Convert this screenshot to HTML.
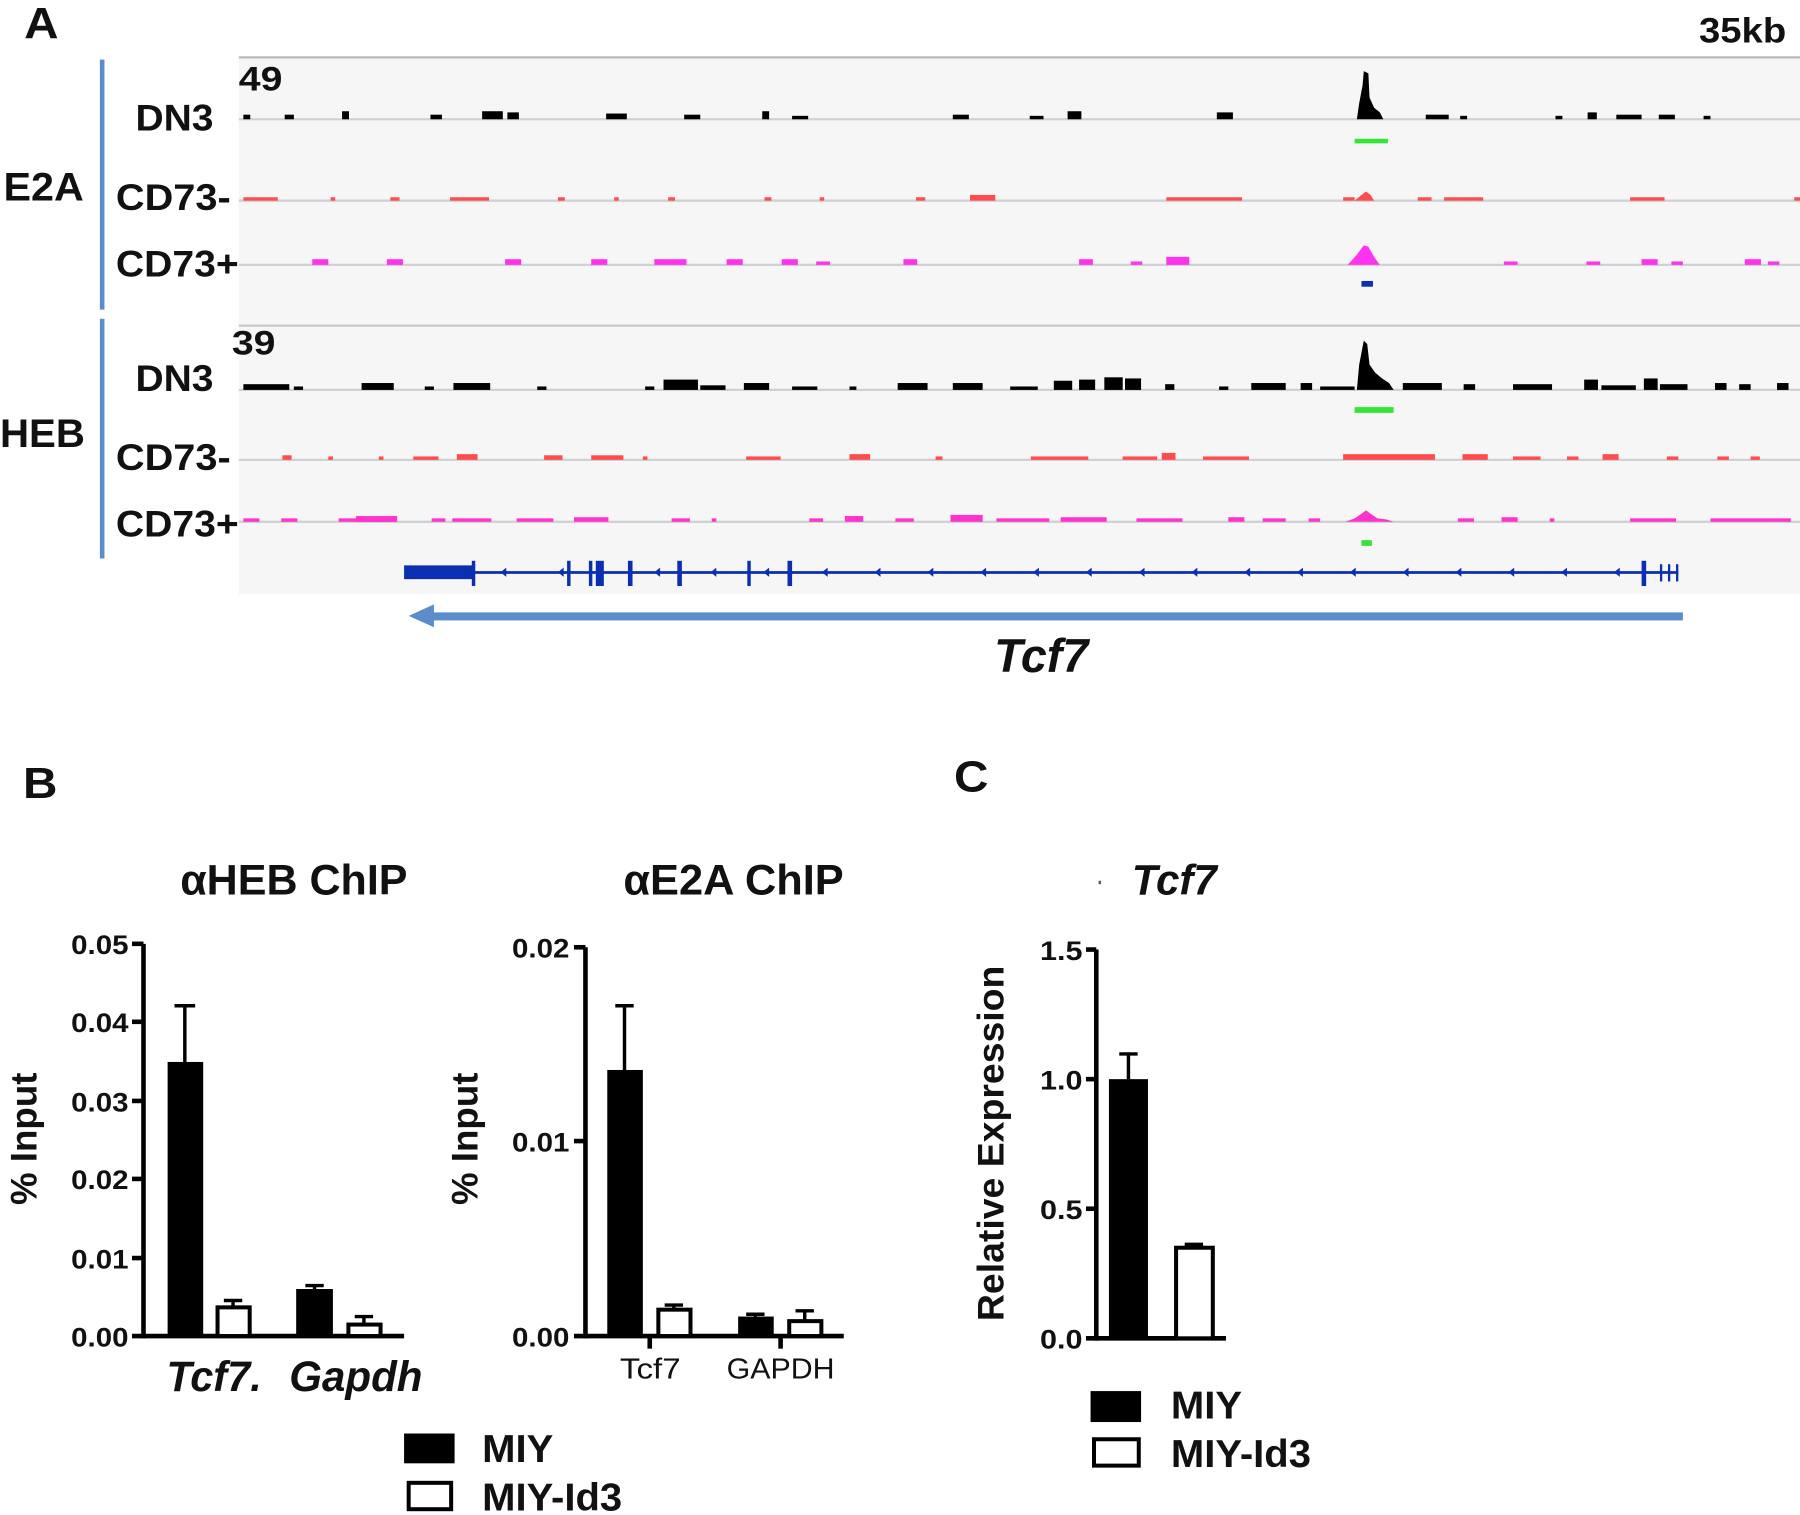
<!DOCTYPE html>
<html><head><meta charset="utf-8"><style>
html,body{margin:0;padding:0;background:#fff;}
svg{display:block;}
text{font-family:"Liberation Sans",Arial,sans-serif;font-weight:bold;fill:#111;}
</style></head><body>
<svg width="1800" height="1515" viewBox="0 0 1568 1327" preserveAspectRatio="none" xmlns="http://www.w3.org/2000/svg">
<rect width="1568" height="1327" fill="#fff"/>
<g transform="scale(1,1.0045)">
<!-- Panel A -->
<text x="21" y="33" font-size="38" textLength="30" lengthAdjust="spacingAndGlyphs">A</text>
<text x="1556" y="37" font-size="31" text-anchor="end" textLength="76" lengthAdjust="spacingAndGlyphs">35kb</text>
<rect x="208" y="50" width="1360" height="468" fill="#f6f6f6"/>
<line x1="208" y1="50" x2="1568" y2="50" stroke="#bbb" stroke-width="2"/>
<line x1="208" y1="284" x2="1568" y2="284" stroke="#ccc" stroke-width="2"/>
<g stroke="#d0d0d6" stroke-width="2">
<line x1="208" y1="104" x2="1568" y2="104"/>
<line x1="208" y1="175" x2="1568" y2="175"/>
<line x1="208" y1="231" x2="1568" y2="231"/>
<line x1="208" y1="340" x2="1568" y2="340"/>
<line x1="208" y1="401" x2="1568" y2="401"/>
<line x1="208" y1="455" x2="1568" y2="455"/>
</g>
<rect x="87" y="52" width="4" height="218" fill="#5b8ccc"/>
<rect x="87" y="278" width="4" height="209" fill="#5b8ccc"/>
<text x="3" y="175" font-size="35" textLength="70" lengthAdjust="spacingAndGlyphs">E2A</text>
<text x="0" y="390" font-size="35" textLength="74" lengthAdjust="spacingAndGlyphs">HEB</text>
<g font-size="32">
<text x="118" y="114" textLength="68" lengthAdjust="spacingAndGlyphs">DN3</text>
<text x="101" y="183" textLength="100" lengthAdjust="spacingAndGlyphs">CD73-</text>
<text x="101" y="241" textLength="107" lengthAdjust="spacingAndGlyphs">CD73+</text>
<text x="118" y="341" textLength="68" lengthAdjust="spacingAndGlyphs">DN3</text>
<text x="101" y="410" textLength="100" lengthAdjust="spacingAndGlyphs">CD73-</text>
<text x="101" y="468" textLength="107" lengthAdjust="spacingAndGlyphs">CD73+</text>
</g>
<text x="208" y="79" font-size="30" textLength="38" lengthAdjust="spacingAndGlyphs">49</text>
<text x="202" y="309" font-size="30" textLength="38" lengthAdjust="spacingAndGlyphs">39</text>
<!-- E2A DN3 -->
<g fill="#000">
<path d="M1182 104 L1184 90 L1187 74 L1188 62 L1192 64 L1193 85 L1197 94 L1202 98 L1205 104Z"/>
<rect x="212" y="100" width="6" height="4"/><rect x="248" y="100" width="8" height="4"/><rect x="298" y="97" width="6" height="7"/><rect x="375" y="100" width="10" height="4"/><rect x="420" y="97" width="18" height="7"/><rect x="442" y="98" width="10" height="6"/><rect x="528" y="99" width="18" height="5"/><rect x="596" y="100" width="14" height="4"/><rect x="664" y="97" width="6" height="7"/><rect x="690" y="101" width="14" height="3"/><rect x="830" y="100" width="14" height="4"/><rect x="897" y="101" width="12" height="3"/><rect x="930" y="97" width="12" height="7"/><rect x="1060" y="98" width="14" height="6"/><rect x="1242" y="100" width="20" height="4"/><rect x="1272" y="101" width="6" height="3"/><rect x="1355" y="101" width="6" height="3"/><rect x="1383" y="98" width="8" height="6"/><rect x="1408" y="100" width="22" height="4"/><rect x="1445" y="100" width="14" height="4"/><rect x="1484" y="101" width="6" height="3"/>
</g>
<rect x="1180" y="121" width="29" height="4" fill="#33e633"/>
<!-- E2A CD73- -->
<g fill="#ff4d4d">
<path d="M1180 175 L1186 170 L1190 167 L1194 170 L1197 175Z"/>
<rect x="212" y="172" width="30" height="3"/><rect x="288" y="172" width="4" height="3"/><rect x="340" y="172" width="8" height="3"/><rect x="392" y="172" width="34" height="3"/><rect x="486" y="172" width="6" height="3"/><rect x="535" y="172" width="4" height="3"/><rect x="582" y="172" width="6" height="3"/><rect x="666" y="172" width="6" height="3"/><rect x="714" y="172" width="4" height="3"/><rect x="798" y="172" width="8" height="3"/><rect x="845" y="170" width="22" height="5"/><rect x="1016" y="172" width="66" height="3"/><rect x="1170" y="172" width="10" height="3"/><rect x="1235" y="172" width="12" height="3"/><rect x="1258" y="172" width="34" height="3"/><rect x="1420" y="172" width="30" height="3"/><rect x="1563" y="172" width="5" height="3"/>
</g>
<!-- E2A CD73+ -->
<g fill="#ff33ee">
<path d="M1174 231 L1182 222 L1188 214 L1192 215 L1197 224 L1202 231Z"/>
<rect x="272" y="226" width="14" height="5"/><rect x="337" y="226" width="14" height="5"/><rect x="440" y="226" width="14" height="5"/><rect x="515" y="226" width="14" height="5"/><rect x="570" y="226" width="28" height="5"/><rect x="633" y="226" width="14" height="5"/><rect x="681" y="226" width="14" height="5"/><rect x="711" y="228" width="12" height="3"/><rect x="787" y="226" width="12" height="5"/><rect x="940" y="226" width="12" height="5"/><rect x="985" y="228" width="10" height="3"/><rect x="1016" y="224" width="20" height="7"/><rect x="1310" y="228" width="12" height="3"/><rect x="1382" y="228" width="12" height="3"/><rect x="1430" y="226" width="14" height="5"/><rect x="1456" y="228" width="10" height="3"/><rect x="1520" y="226" width="14" height="5"/><rect x="1540" y="228" width="10" height="3"/>
</g>
<rect x="1186" y="245" width="10" height="5" fill="#0a2fb0"/>
<!-- HEB DN3 -->
<g fill="#000">
<path d="M1182 340 L1184 318 L1188 297 L1191 300 L1193 318 L1198 325 L1204 330 L1210 334 L1214 340Z"/>
<rect x="212" y="335" width="40" height="5"/><rect x="256" y="337" width="8" height="3"/><rect x="315" y="334" width="28" height="6"/><rect x="370" y="337" width="8" height="3"/><rect x="395" y="334" width="32" height="6"/><rect x="468" y="337" width="8" height="3"/><rect x="562" y="337" width="8" height="3"/><rect x="578" y="331" width="30" height="9"/><rect x="610" y="336" width="22" height="4"/><rect x="648" y="334" width="22" height="6"/><rect x="690" y="337" width="22" height="3"/><rect x="740" y="337" width="6" height="3"/><rect x="782" y="334" width="26" height="6"/><rect x="830" y="334" width="26" height="6"/><rect x="880" y="337" width="24" height="3"/><rect x="918" y="332" width="16" height="8"/><rect x="940" y="331" width="14" height="9"/><rect x="962" y="329" width="16" height="11"/><rect x="980" y="330" width="14" height="10"/><rect x="1015" y="335" width="8" height="5"/><rect x="1062" y="337" width="8" height="3"/><rect x="1090" y="334" width="30" height="6"/><rect x="1133" y="334" width="10" height="6"/><rect x="1150" y="337" width="30" height="3"/><rect x="1222" y="334" width="34" height="6"/><rect x="1275" y="335" width="10" height="5"/><rect x="1318" y="335" width="34" height="5"/><rect x="1380" y="331" width="12" height="9"/><rect x="1395" y="336" width="30" height="4"/><rect x="1432" y="330" width="12" height="10"/><rect x="1446" y="335" width="24" height="5"/><rect x="1494" y="334" width="10" height="6"/><rect x="1515" y="335" width="10" height="5"/><rect x="1548" y="334" width="10" height="6"/>
</g>
<rect x="1180" y="355" width="34" height="5" fill="#33e633"/>
<!-- HEB CD73- -->
<g fill="#ff4d4d">
<rect x="246" y="397" width="8" height="4"/><rect x="286" y="398" width="4" height="3"/><rect x="330" y="398" width="4" height="3"/><rect x="360" y="398" width="22" height="3"/><rect x="398" y="396" width="18" height="5"/><rect x="474" y="397" width="16" height="4"/><rect x="515" y="397" width="28" height="4"/><rect x="560" y="398" width="4" height="3"/><rect x="650" y="398" width="30" height="3"/><rect x="740" y="396" width="18" height="5"/><rect x="815" y="398" width="6" height="3"/><rect x="898" y="398" width="50" height="3"/><rect x="978" y="398" width="30" height="3"/><rect x="1012" y="395" width="12" height="6"/><rect x="1048" y="398" width="40" height="3"/><rect x="1170" y="396" width="80" height="5"/><rect x="1274" y="396" width="22" height="5"/><rect x="1318" y="398" width="24" height="3"/><rect x="1365" y="398" width="10" height="3"/><rect x="1396" y="396" width="14" height="5"/><rect x="1452" y="398" width="10" height="3"/><rect x="1496" y="398" width="10" height="3"/><rect x="1525" y="398" width="8" height="3"/>
</g>
<!-- HEB CD73+ -->
<g fill="#ff33cc">
<path d="M1172 455 L1180 452 L1186 448 L1190 445 L1194 448 L1200 452 L1208 453 L1214 455Z"/>
<rect x="212" y="452" width="14" height="3"/><rect x="245" y="452" width="14" height="3"/><rect x="295" y="452" width="50" height="3"/><rect x="310" y="450" width="36" height="5"/><rect x="376" y="452" width="12" height="3"/><rect x="394" y="452" width="34" height="3"/><rect x="450" y="452" width="32" height="3"/><rect x="500" y="451" width="30" height="4"/><rect x="585" y="452" width="16" height="3"/><rect x="620" y="452" width="4" height="3"/><rect x="705" y="452" width="12" height="3"/><rect x="736" y="450" width="16" height="5"/><rect x="780" y="452" width="16" height="3"/><rect x="828" y="449" width="28" height="6"/><rect x="868" y="452" width="46" height="3"/><rect x="924" y="451" width="40" height="4"/><rect x="990" y="452" width="40" height="3"/><rect x="1070" y="451" width="14" height="4"/><rect x="1100" y="452" width="20" height="3"/><rect x="1140" y="452" width="10" height="3"/><rect x="1270" y="452" width="14" height="3"/><rect x="1308" y="451" width="14" height="4"/><rect x="1350" y="452" width="4" height="3"/><rect x="1420" y="452" width="40" height="3"/><rect x="1490" y="452" width="70" height="3"/>
</g>
<rect x="1186" y="471" width="9" height="5" fill="#33e633"/>
<!-- gene model -->
<g fill="#0a2fb0" stroke="none">
<rect x="352" y="493" width="61" height="12"/>
<rect x="413" y="498" width="1049" height="2.4"/>
<rect x="411" y="489" width="3" height="22"/><rect x="494" y="489" width="3" height="22"/><rect x="513" y="489" width="3" height="22"/><rect x="519" y="489" width="7" height="22"/><rect x="547" y="489" width="4" height="22"/><rect x="590" y="489" width="4" height="22"/><rect x="651" y="489" width="3" height="22"/><rect x="686" y="489" width="4" height="22"/><rect x="1430" y="489" width="4" height="22"/><rect x="1446" y="492" width="2" height="15"/><rect x="1453" y="492" width="2" height="15"/><rect x="1460" y="492" width="2" height="15"/>
</g>
<g fill="#0a2fb0">
<path d="M436 499 l5 -4 v8z M486 499 l5 -4 v8z M570 499 l5 -4 v8z M619 499 l5 -4 v8z M665 499 l5 -4 v8z M716 499 l5 -4 v8z M762 499 l5 -4 v8z M808 499 l5 -4 v8z M854 499 l5 -4 v8z M900 499 l5 -4 v8z M946 499 l5 -4 v8z M992 499 l5 -4 v8z M1038 499 l5 -4 v8z M1084 499 l5 -4 v8z M1130 499 l5 -4 v8z M1176 499 l5 -4 v8z M1222 499 l5 -4 v8z M1268 499 l5 -4 v8z M1314 499 l5 -4 v8z M1360 499 l5 -4 v8z M1406 499 l5 -4 v8z"/>
</g>
<rect x="372" y="534" width="1094" height="7" fill="#5b8ccc"/>
<path d="M356 537 L378 527 L378 547Z" fill="#5b8ccc"/>
<text x="866" y="586" font-size="41" font-style="italic" textLength="82" lengthAdjust="spacingAndGlyphs">Tcf7</text>

<!-- Panel B -->
<text x="20" y="696" font-size="38" textLength="30" lengthAdjust="spacingAndGlyphs">B</text>
<text x="157" y="780" font-size="37" textLength="198" lengthAdjust="spacingAndGlyphs">αHEB ChIP</text>
<g stroke="#000" stroke-width="4" fill="none">
<line x1="125" y1="823" x2="125" y2="1167"/>
<line x1="115" y1="1165" x2="352" y2="1165"/>
<line x1="115" y1="823" x2="125" y2="823"/><line x1="115" y1="891" x2="125" y2="891"/><line x1="115" y1="960" x2="125" y2="960"/><line x1="115" y1="1028" x2="125" y2="1028"/><line x1="115" y1="1097" x2="125" y2="1097"/>
</g>
<g font-size="23">
<text x="62" y="832" textLength="50" lengthAdjust="spacingAndGlyphs">0.05</text><text x="62" y="900" textLength="50" lengthAdjust="spacingAndGlyphs">0.04</text><text x="62" y="969" textLength="50" lengthAdjust="spacingAndGlyphs">0.03</text><text x="62" y="1037" textLength="50" lengthAdjust="spacingAndGlyphs">0.02</text><text x="62" y="1106" textLength="50" lengthAdjust="spacingAndGlyphs">0.01</text><text x="62" y="1174" textLength="50" lengthAdjust="spacingAndGlyphs">0.00</text>
</g>
<g stroke="#000" stroke-width="3">
<line x1="161" y1="926" x2="161" y2="877"/><line x1="152" y1="877" x2="170" y2="877"/>
<line x1="203" y1="1140" x2="203" y2="1134"/><line x1="195" y1="1134" x2="211" y2="1134"/>
<line x1="274" y1="1124" x2="274" y2="1121"/><line x1="266" y1="1121" x2="282" y2="1121"/>
<line x1="317" y1="1155" x2="317" y2="1148"/><line x1="309" y1="1148" x2="325" y2="1148"/>
</g>
<rect x="146" y="926" width="31" height="239" fill="#000"/>
<rect x="189.5" y="1140" width="28" height="25" fill="#fff" stroke="#000" stroke-width="3.5"/>
<rect x="258" y="1124" width="32" height="41" fill="#000"/>
<rect x="303.5" y="1155" width="28" height="10" fill="#fff" stroke="#000" stroke-width="3.5"/>
<text x="145" y="1213" font-size="37" font-style="italic" textLength="83" lengthAdjust="spacingAndGlyphs">Tcf7.</text>
<text x="252" y="1213" font-size="37" font-style="italic" textLength="116" lengthAdjust="spacingAndGlyphs">Gapdh</text>
<text transform="translate(32,993) rotate(-90)" font-size="32" text-anchor="middle">% Input</text>

<text x="543" y="780" font-size="37" textLength="192" lengthAdjust="spacingAndGlyphs">αE2A ChIP</text>
<g stroke="#000" stroke-width="4" fill="none">
<line x1="510" y1="826" x2="510" y2="1167"/>
<line x1="500" y1="1165" x2="735" y2="1165"/>
<line x1="500" y1="826" x2="510" y2="826"/><line x1="500" y1="995" x2="510" y2="995"/>
<line x1="566" y1="1165" x2="566" y2="1176"/><line x1="680" y1="1165" x2="680" y2="1176"/>
</g>
<g font-size="23">
<text x="446" y="835" textLength="50" lengthAdjust="spacingAndGlyphs">0.02</text><text x="446" y="1004" textLength="50" lengthAdjust="spacingAndGlyphs">0.01</text><text x="446" y="1174" textLength="50" lengthAdjust="spacingAndGlyphs">0.00</text>
</g>
<g stroke="#000" stroke-width="3">
<line x1="544" y1="933" x2="544" y2="877"/><line x1="536" y1="877" x2="552" y2="877"/>
<line x1="587" y1="1142" x2="587" y2="1138"/><line x1="579" y1="1138" x2="595" y2="1138"/>
<line x1="658" y1="1148" x2="658" y2="1146"/><line x1="650" y1="1146" x2="666" y2="1146"/>
<line x1="701" y1="1152" x2="701" y2="1143"/><line x1="693" y1="1143" x2="709" y2="1143"/>
</g>
<rect x="529" y="933" width="31" height="232" fill="#000"/>
<rect x="573.5" y="1142" width="28" height="23" fill="#fff" stroke="#000" stroke-width="3.5"/>
<rect x="643" y="1148" width="31" height="17" fill="#000"/>
<rect x="687.5" y="1152" width="28" height="13" fill="#fff" stroke="#000" stroke-width="3.5"/>
<text x="540" y="1202" font-size="25" style="font-weight:normal" textLength="53" lengthAdjust="spacingAndGlyphs">Tcf7</text>
<text x="633" y="1202" font-size="25" style="font-weight:normal" textLength="94" lengthAdjust="spacingAndGlyphs">GAPDH</text>
<text transform="translate(416,993) rotate(-90)" font-size="32" text-anchor="middle">% Input</text>

<rect x="352" y="1250" width="44" height="26" fill="#000"/>
<text x="420" y="1275" font-size="34" textLength="62" lengthAdjust="spacingAndGlyphs">MIY</text>
<rect x="356" y="1293" width="37" height="23" fill="#fff" stroke="#000" stroke-width="3.5"/>
<text x="420" y="1317" font-size="34" textLength="122" lengthAdjust="spacingAndGlyphs">MIY-Id3</text>

<!-- Panel C -->
<text x="831" y="690" font-size="38" textLength="30" lengthAdjust="spacingAndGlyphs">C</text>
<text x="986" y="780" font-size="37" font-style="italic" textLength="74" lengthAdjust="spacingAndGlyphs">Tcf7</text>
<rect x="957" y="768" width="2" height="3" fill="#555"/>
<g stroke="#000" stroke-width="4" fill="none">
<line x1="955" y1="828" x2="955" y2="1169"/>
<line x1="946" y1="1167" x2="1068" y2="1167"/>
<line x1="946" y1="828" x2="955" y2="828"/><line x1="946" y1="941" x2="955" y2="941"/><line x1="946" y1="1054" x2="955" y2="1054"/>
</g>
<g font-size="23">
<text x="906" y="837" textLength="37" lengthAdjust="spacingAndGlyphs">1.5</text><text x="906" y="950" textLength="37" lengthAdjust="spacingAndGlyphs">1.0</text><text x="906" y="1063" textLength="37" lengthAdjust="spacingAndGlyphs">0.5</text><text x="906" y="1176" textLength="37" lengthAdjust="spacingAndGlyphs">0.0</text>
</g>
<g stroke="#000" stroke-width="3">
<line x1="983" y1="941" x2="983" y2="919"/><line x1="975" y1="919" x2="991" y2="919"/>
<line x1="1040" y1="1088" x2="1040" y2="1085"/><line x1="1032" y1="1085" x2="1048" y2="1085"/>
</g>
<rect x="966" y="941" width="34" height="226" fill="#000"/>
<rect x="1024.5" y="1088" width="32" height="79" fill="#fff" stroke="#000" stroke-width="3.5"/>
<text transform="translate(874,997) rotate(-90)" font-size="32" text-anchor="middle" textLength="310" lengthAdjust="spacingAndGlyphs">Relative Expression</text>
<rect x="950" y="1213" width="44" height="27" fill="#000"/>
<text x="1020" y="1237" font-size="34" textLength="62" lengthAdjust="spacingAndGlyphs">MIY</text>
<rect x="953" y="1255" width="39" height="23" fill="#fff" stroke="#000" stroke-width="3.5"/>
<text x="1020" y="1279" font-size="34" textLength="122" lengthAdjust="spacingAndGlyphs">MIY-Id3</text>
</g>
</svg>
</body></html>
